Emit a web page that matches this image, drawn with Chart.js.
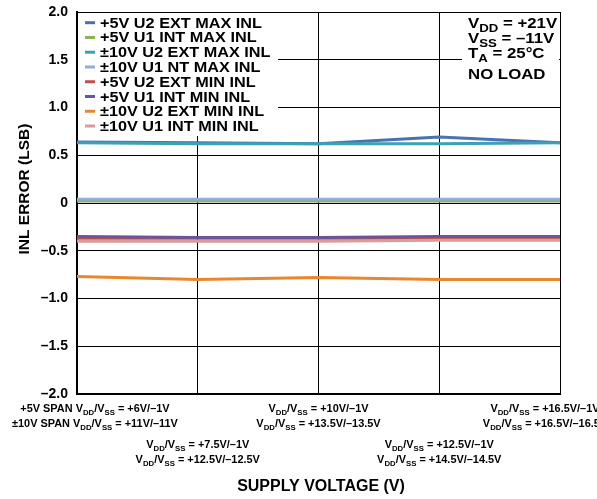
<!DOCTYPE html>
<html>
<head>
<meta charset="utf-8">
<script src="https://cdn.jsdelivr.net/npm/chart.js@4"></script>
<style>
  html, body { margin: 0; padding: 0; background: #fff; }
  #wrap { width: 597px; height: 499px; }
</style>
</head>
<body>
<div id="wrap"><canvas id="mychart" width="597" height="499"></canvas></div>
<script>
// categories (supply settings), tick labels use {..} for subscripts
const categories = ['S1', 'S2', 'S3', 'S4', 'S5'];
const xLabelLine1 = [
  '+5V SPAN V{DD}/V{SS} = +6V/–1V',
  'V{DD}/V{SS} = +7.5V/–1V',
  'V{DD}/V{SS} = +10V/–1V',
  'V{DD}/V{SS} = +12.5V/–1V',
  'V{DD}/V{SS} = +16.5V/–1V'
];
const xLabelLine2 = [
  '±10V SPAN V{DD}/V{SS} = +11V/–11V',
  'V{DD}/V{SS} = +12.5V/–12.5V',
  'V{DD}/V{SS} = +13.5V/–13.5V',
  'V{DD}/V{SS} = +14.5V/–14.5V',
  'V{DD}/V{SS} = +16.5V/–16.5V'
];
const conditions = ['V{DD} = +21V', 'V{SS} = –11V', 'T{A} = 25°C', 'NO LOAD'];

const seriesNames = [
  '+5V U2 EXT MAX INL',
  '+5V U1 INT MAX INL',
  '±10V U2 EXT MAX INL',
  '±10V U1 NT MAX INL',
  '+5V U2 EXT MIN INL',
  '+5V U1 INT MIN INL',
  '±10V U2 EXT MIN INL',
  '±10V U1 INT MIN INL'
];
const u2ExtMax5 = [0.64, 0.63, 0.62, 0.69, 0.63];
const u1IntMax5 = [0.02, 0.02, 0.02, 0.02, 0.02];
const u2ExtMax10 = [0.63, 0.62, 0.62, 0.62, 0.63];
const u1IntMax10 = [0.04, 0.04, 0.04, 0.04, 0.04];
const u2ExtMin5 = [-0.37, -0.37, -0.37, -0.37, -0.37];
const u1IntMin5 = [-0.35, -0.36, -0.36, -0.35, -0.35];
const u2ExtMin10 = [-0.77, -0.80, -0.78, -0.80, -0.80];
const u1IntMin10 = [-0.40, -0.40, -0.40, -0.39, -0.39];

const seriesData = [u2ExtMax5, u1IntMax5, u2ExtMax10, u1IntMax10, u2ExtMin5, u1IntMin5, u2ExtMin10, u1IntMin10];
const colors = ['#4a72b0', '#8db24e', '#3d9fb8', '#93add8', '#c0504d', '#6b5498', '#e8872e', '#dc9a99'];

const FONT = '"Liberation Sans", Arial, sans-serif';

// split "V{DD}/V{SS}" into [text, isSub] parts
function parts(str) {
  const out = [];
  const re = /\{([^}]*)\}/g;
  let last = 0, m;
  while ((m = re.exec(str)) !== null) {
    if (m.index > last) out.push([str.slice(last, m.index), false]);
    out.push([m[1], true]);
    last = re.lastIndex;
  }
  if (last < str.length) out.push([str.slice(last), false]);
  return out;
}

function measure(ctx, str, size, subSize, sx) {
  let w = 0;
  parts(str).forEach(([t, sub]) => {
    ctx.font = 'bold ' + (sub ? subSize : size) + 'px ' + FONT;
    w += ctx.measureText(t).width;
  });
  return w * (sx || 1);
}

function drawRich(ctx, str, x, y, size, subSize, subDy, sx) {
  ctx.save();
  ctx.translate(x, y);
  ctx.scale(sx || 1, 1);
  ctx.textAlign = 'left';
  ctx.textBaseline = 'alphabetic';
  let px = 0;
  parts(str).forEach(([t, sub]) => {
    ctx.font = 'bold ' + (sub ? subSize : size) + 'px ' + FONT;
    ctx.fillText(t, px, sub ? subDy : 0);
    px += ctx.measureText(t).width;
  });
  ctx.restore();
}

const overlays = {
  id: 'overlays',
  afterDatasetsDraw(chart) {
    const ctx = chart.ctx;
    const x = chart.scales.x;
    const area = chart.chartArea;
    ctx.save();

    // legend box
    ctx.fillStyle = '#fff';
    ctx.fillRect(area.left + 1, area.top + 1, 200, 123);
    seriesNames.forEach((name, i) => {
      const y = area.top + 10.7 + i * 14.76;
      ctx.strokeStyle = colors[i];
      ctx.lineWidth = 3;
      ctx.beginPath();
      ctx.moveTo(area.left + 8, y);
      ctx.lineTo(area.left + 18, y);
      ctx.stroke();
      ctx.fillStyle = '#000';
      drawRich(ctx, name, area.left + 23, y + 5, 14, 10, 3, 1.16);
    });

    // conditions box
    ctx.fillStyle = '#fff';
    ctx.fillRect(462, area.top + 1, area.right - 463, 80);
    ctx.fillStyle = '#000';
    const condY = [28, 43, 58, 79];
    conditions.forEach((c, i) => drawRich(ctx, c, 468, condY[i], 14, 11, 4, 1.2));

    // x tick labels, staggered
    categories.forEach((c, i) => {
      const cx = x.getPixelForValue(i);
      const lines = [xLabelLine1[i], xLabelLine2[i]];
      const widths = lines.map(l => measure(ctx, l, 10.5, 7.5, 1.04));
      const wmax = Math.max(...widths);
      let center = Math.max(cx, 12 + wmax / 2);
      if (i === categories.length - 1) center = cx - 15;
      const baseY = i % 2 === 0 ? 412 : 448;
      lines.forEach((l, k) => {
        drawRich(ctx, l, center - widths[k] / 2, baseY + k * 15, 10.5, 7.5, 2.5, 1.04);
      });
    });

    // axis titles
    ctx.fillStyle = '#000';
    ctx.font = 'bold 16px ' + FONT;
    ctx.textAlign = 'center';
    ctx.textBaseline = 'middle';
    ctx.fillText('SUPPLY VOLTAGE (V)', 321, 487);
    ctx.translate(25, 189);
    ctx.rotate(-Math.PI / 2);
    ctx.font = 'bold 15.5px ' + FONT;
    ctx.fillText('INL ERROR (LSB)', 0, 0);
    ctx.restore();
  }
};

new Chart(document.getElementById('mychart'), {
  type: 'line',
  data: {
    labels: categories,
    datasets: seriesData.map((d, i) => ({
      label: seriesNames[i],
      data: d,
      borderColor: colors[i],
      backgroundColor: colors[i],
      borderWidth: 3,
      pointRadius: 0,
      tension: 0,
      order: seriesData.length - i
    }))
  },
  options: {
    responsive: false,
    animation: false,
    layout: { padding: { left: 0, right: 37, top: 12, bottom: 105 } },
    plugins: { legend: { display: false }, tooltip: { enabled: false } },
    scales: {
      x: {
        offset: false,
        ticks: { display: false },
        grid: { color: '#000', lineWidth: 1, drawTicks: false },
        border: { color: '#000', width: 2 },
        afterFit(scale) { scale.height = 0; scale.paddingLeft = 0; scale.paddingRight = 0; }
      },
      y: {
        min: -2,
        max: 2,
        ticks: {
          stepSize: 0.5,
          padding: 9,
          color: '#000',
          font: { family: FONT, size: 14, weight: 'bold' },
          callback: v => v === 0 ? '0' : (v < 0 ? '–' : '') + Math.abs(v).toFixed(1)
        },
        grid: { color: '#000', lineWidth: 1, drawTicks: false },
        border: { color: '#000', width: 2 },
        afterFit(scale) { scale.width = 77; scale.paddingTop = 0; scale.paddingBottom = 0; }
      }
    }
  },
  plugins: [overlays]
});
</script>
</body>
</html>
